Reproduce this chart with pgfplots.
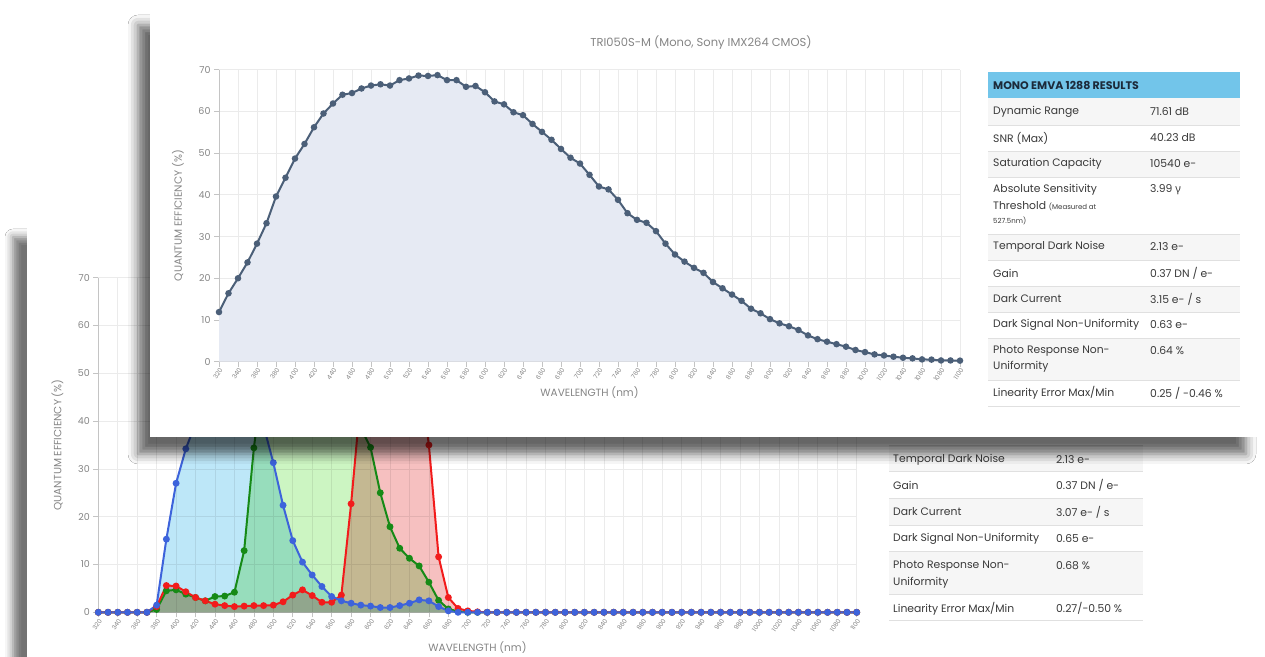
\documentclass[border=0pt]{standalone}
\usepackage{fontspec}
\setmainfont{Poppins}
\newfontfamily\grk{Noto Sans}
\usepackage{pgfplots}
\usepackage{pgfplotstable}
\pgfplotsset{compat=1.18}
\usetikzlibrary{shadows.blur}

\definecolor{monoline}{HTML}{4B5F78}
\definecolor{monofill}{HTML}{E6EAF3}
\definecolor{gridc}{HTML}{EBEBEB}
\definecolor{axc}{HTML}{C4C4C4}
\definecolor{tickc}{HTML}{858585}
\definecolor{hdr}{HTML}{72C5EA}
\definecolor{hdrtxt}{HTML}{1C2A3A}
\definecolor{rowg}{HTML}{F6F6F6}
\definecolor{sep}{HTML}{E0E0E0}
\definecolor{txt}{HTML}{3A3A3A}
\definecolor{bline}{HTML}{3D63DB}
\definecolor{gline}{HTML}{168A16}
\definecolor{rline}{HTML}{F21B1B}
\definecolor{bfill}{HTML}{BDE7F8}
\definecolor{gfill}{HTML}{CCF5C2}
\definecolor{rfill}{HTML}{F6C0C0}

\pgfplotstableread{
x y
320 11.9
330 16.4
340 20.0
350 23.8
360 28.3
370 33.2
380 39.6
390 44.1
400 48.7
410 52.2
420 56.2
430 59.5
440 61.9
450 64.0
460 64.4
470 65.5
480 66.2
490 66.5
500 66.2
510 67.5
520 67.9
530 68.6
540 68.5
550 68.7
560 67.5
570 67.5
580 65.9
590 66.1
600 64.6
610 62.4
620 61.7
630 59.8
640 59.1
650 57.0
660 55.1
670 53.2
680 51.0
690 48.9
700 47.5
710 44.8
720 42.0
730 41.3
740 38.8
750 35.6
760 34.0
770 33.3
780 31.3
790 28.3
800 25.7
810 24.0
820 22.5
830 21.3
840 19.1
850 17.6
860 16.1
870 14.6
880 12.7
890 11.6
900 10.2
910 9.2
920 8.5
930 7.6
940 6.3
950 5.4
960 4.8
970 4.2
980 3.6
990 2.8
1000 2.3
1010 1.75
1020 1.5
1030 1.2
1040 0.95
1050 0.8
1060 0.55
1070 0.5
1080 0.3
1090 0.3
1100 0.25
}\monodata

\pgfplotstableread{
x b g r
320 0 0 0
330 0 0 0
340 0 0 0
350 0 0 0
360 0 0 0
370 0 0 0
380 1.5 0.6 1.2
390 15.3 4.5 5.6
400 27.0 4.7 5.5
410 34.2 3.8 4.3
420 39.5 3.1 3.1
430 43.0 2.4 2.4
440 45.5 3.3 1.7
450 47.0 3.4 1.4
460 48.0 4.2 1.2
470 47.5 12.9 1.3
480 45.0 34.4 1.4
490 39.0 50.0 1.4
500 31.3 57.0 1.5
510 22.4 60.0 2.2
520 15.0 61.0 3.6
530 10.5 60.5 4.7
540 7.8 59.0 3.5
550 5.4 56.0 2.1
560 3.3 52.0 2.1
570 2.4 47.0 3.6
580 1.9 42.0 22.7
590 1.5 38.5 45.0
600 1.3 34.5 55.0
610 1.0 25.0 58.0
620 1.0 17.9 59.0
630 1.4 13.4 58.0
640 1.9 11.3 56.0
650 2.6 9.7 50.0
660 2.4 6.3 35.0
670 1.2 2.5 11.6
680 0.3 0.7 3.1
690 0 0.2 0.8
700 0 0 0.3
710 0 0 0.1
720 0 0 0
730 0 0 0
740 0 0 0
750 0 0 0
760 0 0 0
770 0 0 0
780 0 0 0
790 0 0 0
800 0 0 0
810 0 0 0
820 0 0 0
830 0 0 0
840 0 0 0
850 0 0 0
860 0 0 0
870 0 0 0
880 0 0 0
890 0 0 0
900 0 0 0
910 0 0 0
920 0 0 0
930 0 0 0
940 0 0 0
950 0 0 0
960 0 0 0
970 0 0 0
980 0 0 0
990 0 0 0
1000 0 0 0
1010 0 0 0
1020 0 0 0
1030 0 0 0
1040 0 0 0
1050 0 0 0
1060 0 0 0
1070 0 0 0
1080 0 0 0
1090 0 0 0
1100 0 0 0
}\colordata

\pgfplotsset{qe/.style={
  scale only axis, anchor=south west,
  xmin=320, xmax=1100, ymin=0, ymax=70,
  xtick={320,340,...,1100}, ytick={0,10,...,70},
  axis x line*=bottom, axis y line*=left,
  axis line style={draw=axc, line width=0.8pt, -},
  grid=major, grid style={draw=gridc, line width=0.7pt},
  tick align=outside, major tick length=5pt, tick style={draw=axc, line width=0.7pt},
  /pgf/number format/assume math mode=true,
  /pgf/number format/1000 sep={},
  x tick label style={rotate=55, anchor=north east, font=\fontsize{6.3}{7}\selectfont, text=tickc, inner sep=0.5pt},
  y tick label style={font=\fontsize{9.5}{10}\selectfont, text=tickc},
  label style={font=\fontsize{10.5}{12}\selectfont, text=tickc},
  xlabel={WAVELENGTH (nm)}, ylabel={QUANTUM EFFICIENCY (\%)},
  clip=false,
}}

\begin{document}
\begin{tikzpicture}[x=1pt,y=1pt]
\useasboundingbox (0,0) rectangle (1265,656);
\fill[white] (0,0) rectangle (1265,656);
% back card
\path[fill=white, blur shadow={shadow xshift=-14pt, shadow yshift=-9pt, shadow blur radius=8pt, shadow opacity=55}] (27,-60) rectangle (1150,428);

\begin{axis}[qe, at={(98.3pt,43.7pt)}, width=758.4pt, height=334.6pt,
  xlabel style={at={(axis description cs:0.5,-0.104)}, anchor=center},
  ylabel style={at={(axis description cs:-0.054,0.5)}, anchor=center}]
\addplot[fill=bfill, draw=none, blend mode=multiply] table[y=b] \colordata \closedcycle;
\addplot[fill=gfill, draw=none, blend mode=multiply] table[y=g] \colordata \closedcycle;
\addplot[fill=rfill, draw=none, blend mode=multiply] table[y=r] \colordata \closedcycle;
\addplot[gline, line width=2pt, mark=*, mark size=2.4pt, mark options={solid}] table[y=g] \colordata;
\addplot[rline, line width=2pt, mark=*, mark size=2.4pt, mark options={solid}] table[y=r] \colordata;
\addplot[bline, line width=2pt, mark=*, mark size=2.4pt, mark options={solid}] table[y=b] \colordata;
\end{axis}

\begin{scope}[shift={(0,656)}, yscale=-1]
  \foreach \a/\b in {445/471.7,498.7/525.3,551.7/594} \fill[rowg] (889,\a) rectangle (1143,\b);
  \foreach \y in {445,471.7,498.7,525.3,551.7,594,620.7} \draw[sep, line width=0.8pt] (889,\y) -- (1143,\y);
  \begin{scope}[every node/.style={anchor=west, inner sep=0pt, text=txt, font=\fontsize{10.8}{12}\selectfont}]
  \node at (893,459.3) {Temporal Dark Noise};  \node at (1056,459.3) {2.13 e-};
  \node at (893,485.3) {Gain};                 \node at (1056,485.3) {0.37 DN / e-};
  \node at (893,512) {Dark Current};           \node at (1056,512) {3.07 e- / s};
  \node at (893,538.7) {Dark Signal Non-Uniformity}; \node at (1056,538.7) {0.65 e-};
  \node at (893,565.7) {Photo Response Non-};  \node at (1056,565.7) {0.68 \%};
  \node at (893,582.3) {Uniformity};
  \node at (893,608.7) {Linearity Error Max/Min}; \node at (1056,608.7) {0.27/-0.50 \%};
  \end{scope}
\end{scope}

% front card
\path[fill=white, blur shadow={shadow xshift=-12pt, shadow yshift=-17pt, shadow blur radius=10pt, shadow opacity=60}] (150,219) rectangle (1258,648);

\begin{axis}[qe, at={(219pt,294.3pt)}, width=741pt, height=292pt,
  xlabel style={at={(axis description cs:0.5,-0.106)}, anchor=center},
  ylabel style={at={(axis description cs:-0.0553,0.5)}, anchor=center}]
\addplot[fill=monofill, draw=none] table \monodata \closedcycle;
\addplot[monoline, line width=2pt, mark=*, mark size=2.2pt, mark options={solid}] table \monodata;
\end{axis}

\node[text=tickc, font=\fontsize{11.5}{13}\selectfont] at (701,613) {TRI050S-M (Mono, Sony IMX264 CMOS)};

\begin{scope}[shift={(0,656)}, yscale=-1]
  \fill[hdr] (988,72) rectangle (1240,98);
  \foreach \a/\b in {98/125,151/177,234/260,286/312,338/380} \fill[rowg] (988,\a) rectangle (1240,\b);
  \foreach \y in {125,151,177,234,260,286,312,338,380,406} \draw[sep, line width=0.8pt] (988,\y) -- (1240,\y);
  \node[anchor=west, inner sep=0pt, text=hdrtxt, font=\fontsize{11}{12}\selectfont\bfseries] at (993,85.5) {MONO EMVA 1288 RESULTS};
  \begin{scope}[every node/.style={anchor=west, inner sep=0pt, text=txt, font=\fontsize{10.8}{12}\selectfont}]
  \node at (993,112) {Dynamic Range};          \node at (1150,112) {71.61 dB};
  \node at (993,138) {SNR (Max)};              \node at (1150,138) {40.23 dB};
  \node at (993,164) {Saturation Capacity};    \node at (1150,164) {10540 e-};
  \node at (993,190) {Absolute Sensitivity};   \node at (1150,190) {3.99 {\grk γ}};
  \node at (993,206) {Threshold {\fontsize{7}{8}\selectfont (Measured at}};
  \node at (993,221) {\fontsize{7}{8}\selectfont 527.5nm)};
  \node at (993,247) {Temporal Dark Noise};    \node at (1150,247) {2.13 e-};
  \node at (993,273) {Gain};                   \node at (1150,273) {0.37 DN / e-};
  \node at (993,299) {Dark Current};           \node at (1150,299) {3.15 e- / s};
  \node at (993,325) {Dark Signal Non-Uniformity}; \node at (1150,325) {0.63 e-};
  \node at (993,351) {Photo Response Non-};    \node at (1150,351) {0.64 \%};
  \node at (993,367) {Uniformity};
  \node at (993,393) {Linearity Error Max/Min}; \node at (1150,393) {0.25 / -0.46 \%};
  \end{scope}
\end{scope}
\end{tikzpicture}
\end{document}
